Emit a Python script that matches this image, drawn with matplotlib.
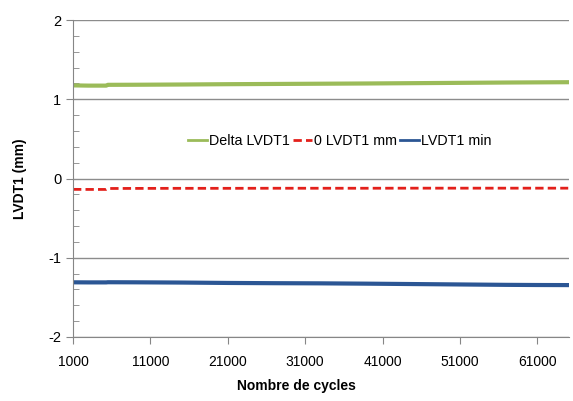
import numpy as np
import matplotlib.pyplot as plt
from matplotlib.ticker import MultipleLocator

# values (cycles, mm)
cycles = [1000, 3000, 5300, 5500, 9000, 15000, 21000, 27000, 33000, 39000,
          45000, 51000, 57000, 61000, 65000]
delta_lvdt1 = [1.175, 1.172, 1.172, 1.182, 1.183, 1.186, 1.190, 1.193, 1.196,
               1.199, 1.203, 1.207, 1.211, 1.213, 1.215]
zero_lvdt1 = [-0.137, -0.138, -0.138, -0.126, -0.125, -0.124, -0.124, -0.123,
              -0.123, -0.123, -0.122, -0.122, -0.122, -0.122, -0.122]
lvdt1_min = [-1.310, -1.311, -1.311, -1.309, -1.310, -1.313, -1.318, -1.321,
             -1.323, -1.327, -1.332, -1.337, -1.342, -1.344, -1.345]
xticks = [1000, 11000, 21000, 31000, 41000, 51000, 61000]

plt.rcParams['font.family'] = ['Liberation Sans', 'DejaVu Sans']
plt.rcParams['axes.unicode_minus'] = False

fig = plt.figure(figsize=(5.73, 4.01), dpi=100)
ax = fig.add_axes([73 / 573, 64 / 401, 496 / 573, 317 / 401])

ax.plot(cycles, delta_lvdt1, color='#9BBB59', lw=3, label='Delta LVDT1')
ax.plot(cycles, zero_lvdt1, color='#E3201B', lw=2, ls=(0, (3, 1.5)), label='0 LVDT1 mm')
ax.plot(cycles, lvdt1_min, color='#2B5694', lw=3, label='LVDT1 min')

ax.set_xlim(1000, 65100)
ax.set_ylim(-2, 2)
ax.set_xticks(xticks)
ax.set_xticklabels([str(t) for t in xticks], fontsize=10)
ax.yaxis.set_major_locator(MultipleLocator(1))
ax.yaxis.set_minor_locator(MultipleLocator(0.2))
ax.tick_params(axis='y', which='major', length=5, direction='out', color='#868686', labelsize=10.5)
ax.tick_params(axis='y', which='minor', length=4, direction='in', color='#868686')
ax.tick_params(axis='x', which='major', length=5, direction='out', color='#868686', pad=8)
ax.grid(axis='y', which='major', color='#8C8C8C', lw=1)
for s in ['top', 'right']:
    ax.spines[s].set_visible(False)
for s in ['left', 'bottom']:
    ax.spines[s].set_color('#868686')

fig.text(296 / 573, 1 - 386 / 401, 'Nombre de cycles', fontsize=10, fontweight='bold',
         ha='center', va='center')
ax.set_ylabel('LVDT1 (mm)', fontsize=10, fontweight='bold', labelpad=15)

leg = ax.legend(loc='center', bbox_to_anchor=(0.538, 0.617), ncol=3, frameon=False,
                handlelength=1.3, handletextpad=0.15, columnspacing=0.25, fontsize=10.3)
for h in leg.get_lines():
    h.set_linewidth(2)

fig.savefig('out.png', dpi=100)
